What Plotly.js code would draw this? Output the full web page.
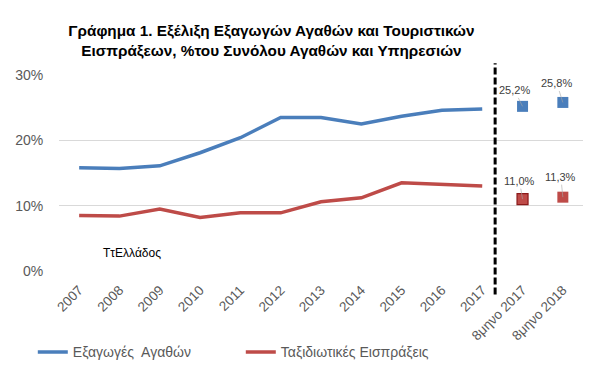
<!DOCTYPE html>
<html>
<head>
<meta charset="utf-8">
<script src="https://cdn.plot.ly/plotly-3.0.1.min.js"></script>
<style>html,body{margin:0;padding:0;background:#fff;}#chart{width:610px;height:380px;}</style>
</head>
<body>
<div id="chart"></div>
<script>
var categories = ['2007','2008','2009','2010','2011','2012','2013','2014','2015','2016','2017','8μηνο 2017','8μηνο 2018'];
var yearCats = categories.slice(0, 11);
var partialCats = categories.slice(11);
var exportsGoods = [15.8, 15.7, 16.1, 18.1, 20.4, 23.5, 23.5, 22.5, 23.7, 24.6, 24.8];
var tourismReceipts = [8.5, 8.4, 9.5, 8.2, 8.9, 8.9, 10.6, 11.2, 13.5, 13.2, 13.0];
var exportsPartial = [25.2, 25.8];
var tourismPartial = [11.0, 11.3];
var yTicks = [0, 10, 20, 30];

var blue = '#4a7ebb';
var red = '#be4b48';
var fmt = function(v){ return v.toFixed(1).replace('.', ',') + '%'; };

var traces = [
  {x: yearCats, y: exportsGoods, type: 'scatter', mode: 'lines', name: 'Εξαγωγές  Αγαθών',
   line: {color: blue, width: 3.5}, hoverinfo: 'skip'},
  {x: yearCats, y: tourismReceipts, type: 'scatter', mode: 'lines', name: 'Ταξιδιωτικές Εισπράξεις',
   line: {color: red, width: 3.5}, hoverinfo: 'skip'},
  {x: partialCats, y: exportsPartial, type: 'scatter', mode: 'markers', showlegend: false,
   marker: {symbol: 'square', size: 11, color: blue, line: {width: 0}}},
  {x: partialCats, y: tourismPartial, type: 'scatter', mode: 'markers', showlegend: false,
   marker: {symbol: 'square', size: 11, color: red, line: {width: [1.2, 0], color: '#8b1a1a'}}}
];

var labelOffsets = [[-8, -16], [-6, -19], [-3, -18], [-2, -20]];
var annotations = [];
var pts = [[partialCats[0], exportsPartial[0]], [partialCats[1], exportsPartial[1]],
           [partialCats[0], tourismPartial[0]], [partialCats[1], tourismPartial[1]]];
pts.forEach(function(p, i){
  annotations.push({x: p[0], y: p[1], xref: 'x', yref: 'y', text: fmt(p[1]),
    showarrow: true, arrowhead: 0, arrowwidth: 0.6, arrowcolor: '#a6a6a6',
    ax: labelOffsets[i][0], ay: labelOffsets[i][1], standoff: 0,
    font: {family: 'Liberation Sans, Arial, sans-serif', size: 11, color: '#404040'}});
});
annotations.push({x: 0.08, y: 0.09, xref: 'paper', yref: 'paper', xanchor: 'left', yanchor: 'middle',
  text: 'ΤτΕλλάδος', showarrow: false,
  font: {family: 'Liberation Sans, Arial, sans-serif', size: 12, color: '#000'}});

var layout = {
  width: 610, height: 380,
  margin: {l: 59, r: 27, t: 75, b: 107},
  paper_bgcolor: '#fff', plot_bgcolor: '#fff',
  font: {family: 'Liberation Sans, Arial, sans-serif', color: '#595959'},
  title: {text: '<b>Γράφημα 1. Εξέλιξη Εξαγωγών Αγαθών και Τουριστικών<br>Εισπράξεων, %του Συνόλου Αγαθών και Υπηρεσιών</b>',
          x: 0.445, xanchor: 'center', y: 0.905, yanchor: 'middle',
          font: {family: 'Liberation Sans, Arial, sans-serif', size: 15.3, color: '#000'}},
  xaxis: {type: 'category', categoryorder: 'array', categoryarray: categories,
          range: [-0.5, 12.5], showgrid: false, showline: false, zeroline: false,
          tickangle: -45, ticks: 'outside', ticklen: 5, tickcolor: 'rgba(0,0,0,0)',
          tickfont: {size: 13.5, color: '#595959'}},
  yaxis: {range: [0, 30], tickvals: yTicks, ticktext: yTicks.map(function(v){return v + '%';}),
          showgrid: true, gridcolor: '#d9d9d9', gridwidth: 1, zeroline: false, showline: false,
          ticks: 'outside', ticklen: 12, tickcolor: 'rgba(0,0,0,0)',
          tickfont: {size: 14, color: '#595959'}, fixedrange: true},
  legend: {orientation: 'h', x: -0.05, xanchor: 'left', y: -0.415, yanchor: 'middle',
           font: {size: 14, color: '#595959'}, entrywidth: 163, entrywidthmode: 'pixels',
           itemwidth: 30, tracegroupgap: 0},
  shapes: [{type: 'line', xref: 'x', yref: 'paper', x0: 10.32, x1: 10.32, y0: -0.12, y1: 1.06,
            line: {color: '#000', width: 3, dash: '7px,3px'}}],
  annotations: annotations,
  showlegend: true
};

Plotly.newPlot('chart', traces, layout, {staticPlot: true, displayModeBar: false});
</script>
</body>
</html>
